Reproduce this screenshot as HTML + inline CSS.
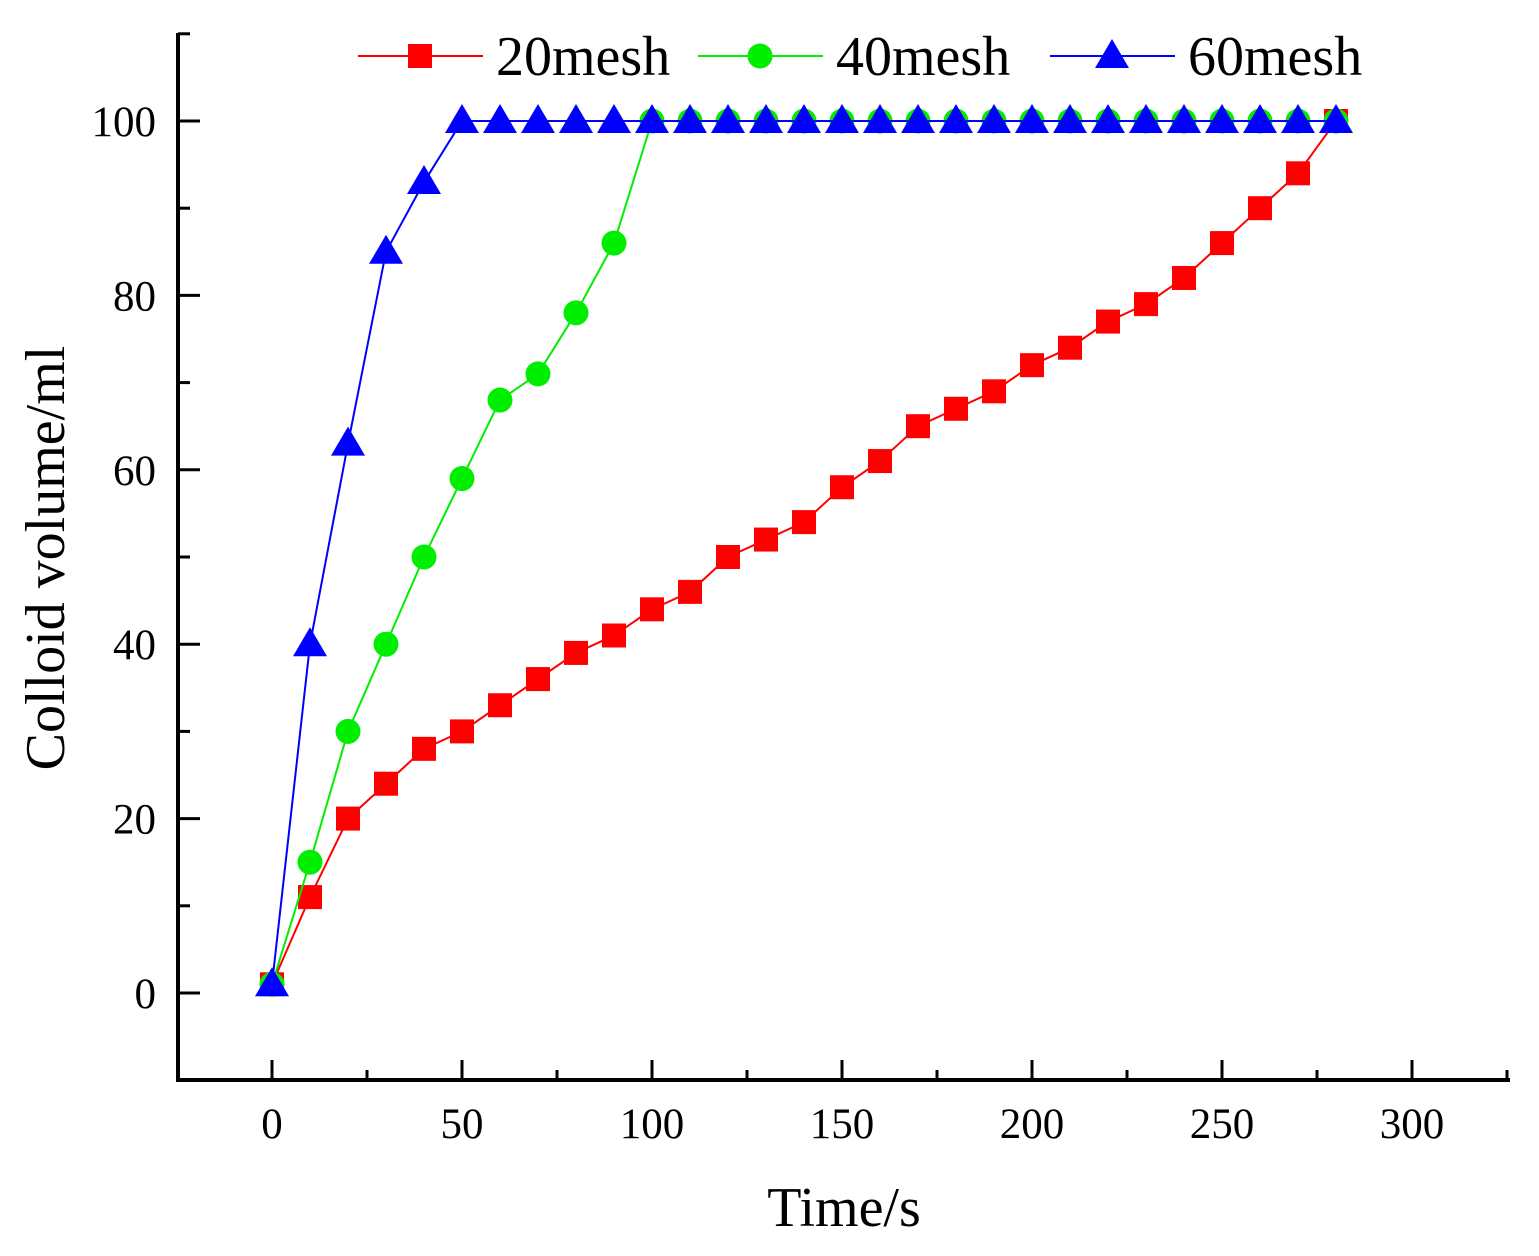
<!DOCTYPE html>
<html><head><meta charset="utf-8"><style>body{margin:0;background:#fff}</style></head><body>
<svg width="1539" height="1251" xmlns="http://www.w3.org/2000/svg" font-family="Liberation Serif, serif">
<g id="chart"></g>
</svg>
<script>
const X=v=>272+v*3.8, Y=v=>993-v*8.72;
let s='';
s+='<line x1="178" y1="33" x2="178" y2="1082" stroke="#000" stroke-width="4"/>';
s+='<line x1="176" y1="1080" x2="1510" y2="1080" stroke="#000" stroke-width="4"/>';
for(let v=-10;v<=110;v+=10){const y=Y(v);if(y<30||y>1078)continue;const maj=v%20==0;s+=`<line x1="178" y1="${y}" x2="${maj?200:190}" y2="${y}" stroke="#000" stroke-width="3"/>`;if(maj)s+=`<text x="156" y="${y+15}" font-size="43" text-anchor="end">${v}</text>`;}
for(let v=-25;v<=325;v+=25){const x=X(v);if(x<180||x>1508)continue;const maj=v%50==0;s+=`<line x1="${x}" y1="1080" x2="${x}" y2="${maj?1060:1070}" stroke="#000" stroke-width="3"/>`;if(maj)s+=`<text x="${x}" y="1138" font-size="43" text-anchor="middle">${v}</text>`;}
s+='<text x="844" y="1226" font-size="56" text-anchor="middle">Time/s</text>';
s+='<text transform="translate(64,558) rotate(-90)" font-size="56" text-anchor="middle">Colloid volume/ml</text>';
const r=[1,11,20,24,28,30,33,36,39,41,44,46,50,52,54,58,61,65,67,69,72,74,77,79,82,86,90,94,100];
const g=[1,15,30,40,50,59,68,71,78,86];while(g.length<29)g.push(100);
const b=[1,40,63,85,93];while(b.length<29)b.push(100);
const sq=(x,y,c)=>`<rect x="${x-12}" y="${y-12}" width="24" height="24" fill="${c}"/>`;
const ci=(x,y,c)=>`<circle cx="${x}" cy="${y}" r="12.5" fill="${c}"/>`;
const tr=(x,y,c)=>`<polygon points="${x},${y-17} ${x-17},${y+12} ${x+17},${y+12}" fill="${c}"/>`;
[[r,'#ff0000',sq],[g,'#00ee00',ci],[b,'#0000ff',tr]].forEach(([d,c,m])=>{
 s+=`<polyline fill="none" stroke="${c}" stroke-width="2" points="${d.map((v,i)=>X(i*10)+','+Y(v)).join(' ')}"/>`;
 d.forEach((v,i)=>s+=m(X(i*10),Y(v),c));
});
const L=[[358,'#ff0000',sq,'20mesh'],[698,'#00ee00',ci,'40mesh'],[1050,'#0000ff',tr,'60mesh']];
L.forEach(([x,c,m,t])=>{s+=`<line x1="${x}" y1="56" x2="${x+125}" y2="56" stroke="${c}" stroke-width="2"/>`+m(x+62,56,c)+`<text x="${x+138}" y="75" font-size="56">${t}</text>`;});
document.getElementById('chart').innerHTML=s;
</script>
</body></html>
